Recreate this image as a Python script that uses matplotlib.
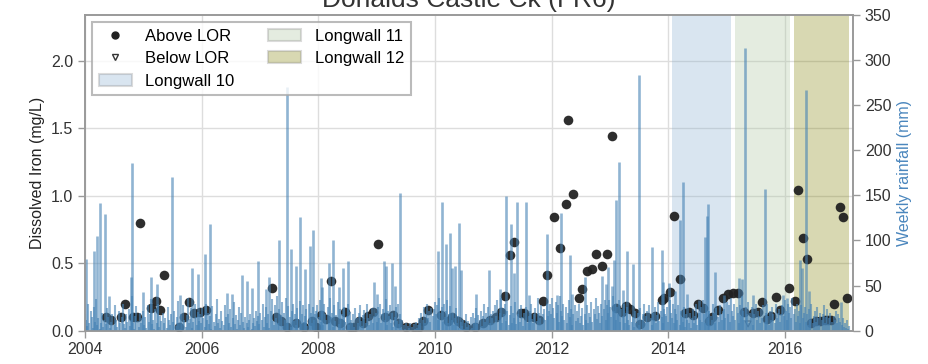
import numpy as np
import matplotlib
matplotlib.use('Agg')
from matplotlib import pyplot as plt
from matplotlib.lines import Line2D
from matplotlib.patches import Patch

plt.rcParams['font.family'] = ['Liberation Sans', 'DejaVu Sans']
plt.rcParams['font.size'] = 11.5

# dissolved iron samples (decimal year, mg/L)
above_dates = [2004.36, 2004.45, 2004.62, 2004.69, 2004.82, 2004.89, 2004.94, 2005.13, 2005.21, 2005.29,
               2005.36, 2005.62, 2005.70, 2005.79, 2005.87, 2005.97, 2006.07, 2007.20, 2007.28, 2007.36,
               2007.46, 2007.62, 2007.75, 2007.89, 2007.96, 2008.05, 2008.13, 2008.21, 2008.29, 2008.37,
               2008.46, 2008.54, 2008.62, 2008.70, 2008.76, 2008.86, 2008.94, 2009.03, 2009.15, 2009.29,
               2009.37, 2009.50, 2009.65, 2009.72, 2009.80, 2009.88, 2010.11, 2010.22, 2010.30, 2010.40,
               2010.46, 2010.54, 2010.69, 2010.82, 2010.94, 2011.05, 2011.14, 2011.21, 2011.29, 2011.36,
               2011.47, 2011.53, 2011.60, 2011.70, 2011.79, 2011.86, 2011.93, 2012.05, 2012.14, 2012.24,
               2012.29, 2012.37, 2012.47, 2012.52, 2012.61, 2012.69, 2012.77, 2012.87, 2012.95, 2013.04,
               2013.10, 2013.21, 2013.27, 2013.35, 2013.44, 2013.52, 2013.63, 2013.78, 2013.89, 2013.93,
               2014.03, 2014.10, 2014.21, 2014.29, 2014.36, 2014.43, 2014.52, 2014.60, 2014.70, 2014.75,
               2014.86, 2014.94, 2015.02, 2015.11, 2015.19, 2015.30, 2015.46, 2015.54, 2015.61, 2015.69,
               2015.77, 2015.85, 2015.92, 2016.08, 2016.18, 2016.23, 2016.31, 2016.38, 2016.45, 2016.54,
               2016.61, 2016.69, 2016.74, 2016.79, 2016.84, 2016.94, 2016.99, 2017.07]
above_fe = [0.10, 0.08, 0.10, 0.20, 0.10, 0.10, 0.80, 0.17, 0.22, 0.15,
            0.41, 0.03, 0.10, 0.21, 0.13, 0.14, 0.15, 0.32, 0.10, 0.07,
            0.03, 0.06, 0.03, 0.07, 0.03, 0.12, 0.09, 0.37, 0.07, 0.06,
            0.14, 0.03, 0.03, 0.07, 0.06, 0.11, 0.14, 0.64, 0.10, 0.12,
            0.06, 0.03, 0.03, 0.03, 0.07, 0.15, 0.12, 0.07, 0.10, 0.07,
            0.05, 0.03, 0.03, 0.06, 0.08, 0.10, 0.14, 0.26, 0.56, 0.66,
            0.13, 0.13, 0.10, 0.10, 0.08, 0.22, 0.41, 0.84, 0.61, 0.94,
            1.56, 1.01, 0.24, 0.31, 0.44, 0.46, 0.57, 0.48, 0.57, 1.44,
            0.17, 0.14, 0.18, 0.16, 0.13, 0.05, 0.10, 0.11, 0.23, 0.24,
            0.29, 0.85, 0.38, 0.13, 0.14, 0.12, 0.20, 0.17, 0.07, 0.10,
            0.15, 0.24, 0.27, 0.28, 0.28, 0.14, 0.13, 0.14, 0.21, 0.09,
            0.11, 0.25, 0.15, 0.32, 0.22, 1.04, 0.69, 0.53, 0.06, 0.07,
            0.07, 0.08, 0.08, 0.08, 0.20, 0.92, 0.84, 0.24]
below_dates = [2015.37]
below_fe = [0.05]

# weekly rainfall (mm), one row per year from first week of 2004
weekly_mm = [
    [18, 12, 5, 30, 8, 22, 15, 3, 26, 10, 35, 6, 14, 2, 9, 20, 4, 12, 0, 7, 25, 15, 3, 10, 18, 1, 6, 28, 12, 4, 22, 9, 0, 15, 30, 7, 3, 18, 10, 24, 5, 12, 38, 8, 2, 16, 27, 11, 4, 20, 9, 14],
    [22, 6, 15, 3, 28, 10, 18, 35, 7, 12, 2, 24, 9, 30, 4, 16, 11, 0, 20, 8, 14, 3, 26, 12, 6, 18, 1, 10, 22, 5, 15, 33, 9, 2, 19, 7, 28, 12, 4, 17, 36, 8, 13, 25, 3, 10, 30, 15, 6, 21, 11, 18],
    [9, 25, 14, 4, 30, 12, 20, 7, 16, 2, 27, 10, 5, 18, 35, 8, 13, 3, 22, 11, 6, 28, 15, 1, 19, 9, 24, 4, 14, 32, 7, 17, 2, 12, 26, 6, 20, 10, 3, 15, 0, 8, 4, 12, 18, 2, 9, 14, 5, 22, 11, 16],
    [7, 20, 12, 30, 4, 15, 26, 9, 18, 3, 22, 35, 11, 6, 28, 14, 38, 8, 24, 17, 32, 5, 20, 12, 36, 9, 27, 15, 4, 22, 30, 11, 18, 6, 25, 13, 33, 7, 19, 28, 10, 16, 24, 5, 30, 14, 20, 9, 26, 12, 18, 22],
    [28, 15, 34, 10, 22, 6, 30, 18, 12, 26, 8, 36, 15, 20, 4, 28, 11, 17, 32, 7, 24, 13, 19, 3, 26, 10, 16, 30, 6, 21, 12, 9, 18, 4, 25, 14, 8, 20, 28, 11, 5, 17, 23, 9, 30, 14, 6, 19, 12, 25, 8, 16],
    [20, 10, 26, 14, 30, 8, 18, 24, 12, 35, 6, 22, 16, 28, 9, 20, 4, 15, 26, 11, 30, 7, 18, 3, 12, 6, 2, 8, 0, 5, 3, 9, 1, 4, 7, 2, 10, 3, 6, 14, 8, 20, 12, 26, 9, 18, 30, 14, 22, 10, 25, 16],
    [24, 32, 18, 28, 12, 36, 20, 26, 10, 30, 15, 22, 34, 8, 18, 27, 12, 20, 6, 14, 25, 9, 16, 3, 10, 5, 12, 2, 8, 18, 4, 11, 6, 15, 3, 20, 9, 14, 25, 7, 17, 12, 22, 5, 16, 30, 10, 20, 14, 26, 8, 18],
    [14, 22, 9, 28, 16, 34, 12, 20, 36, 8, 25, 18, 30, 11, 22, 6, 17, 27, 9, 20, 14, 32, 7, 18, 24, 10, 28, 15, 5, 20, 12, 26, 8, 16, 22, 30, 13, 9, 18, 25, 11, 36, 20, 14, 28, 7, 19, 24, 12, 30, 16, 22],
    [30, 18, 36, 25, 14, 32, 20, 28, 10, 38, 22, 16, 30, 12, 26, 8, 20, 34, 15, 24, 6, 18, 28, 11, 22, 14, 30, 9, 16, 25, 6, 19, 12, 28, 8, 20, 15, 32, 10, 24, 18, 36, 13, 27, 20, 9, 30, 16, 24, 34, 12, 28],
    [20, 34, 26, 15, 38, 22, 30, 12, 26, 18, 34, 10, 24, 16, 30, 8, 20, 26, 12, 6, 18, 10, 15, 4, 22, 9, 14, 20, 6, 25, 12, 18, 30, 8, 16, 22, 10, 28, 14, 6, 20, 12, 26, 9, 17, 32, 11, 22, 15, 8, 24, 18],
    [16, 26, 10, 34, 20, 14, 30, 8, 24, 18, 12, 28, 6, 22, 15, 10, 26, 4, 18, 12, 8, 20, 3, 14, 24, 9, 16, 30, 6, 20, 12, 26, 10, 34, 18, 8, 28, 14, 22, 6, 16, 12, 30, 20, 9, 25, 15, 10, 28, 18, 12, 22],
    [24, 14, 32, 18, 28, 10, 36, 22, 16, 30, 12, 26, 20, 8, 28, 16, 38, 22, 12, 26, 18, 32, 9, 20, 14, 26, 6, 18, 30, 12, 22, 16, 8, 24, 14, 28, 10, 20, 30, 16, 6, 22, 12, 26, 18, 8, 30, 14, 20, 24, 10, 18],
    [28, 16, 34, 22, 12, 30, 20, 26, 14, 36, 18, 24, 10, 30, 16, 22, 8, 28, 14, 20, 26, 10, 18, 6, 24, 12, 30, 8, 16, 22, 10, 26, 14, 6, 20, 12, 18, 28, 9, 15, 24, 7, 14, 20, 10, 6, 16, 12, 22, 8, 18, 14],
    [10, 6, 14, 4, 8, 3, 12, 2, 5],
]

# storm weeks (decimal year, mm)
storm_dates = [2004.02, 2004.15, 2004.20, 2004.26, 2004.35, 2004.42, 2004.79, 2004.81, 2004.99, 2005.14,
               2005.23, 2005.50, 2005.63, 2005.84, 2005.93, 2006.06, 2006.15, 2006.43, 2006.52, 2006.70,
               2006.78, 2006.86, 2006.97, 2007.10, 2007.15, 2007.33, 2007.46, 2007.53, 2007.61, 2007.69,
               2007.78, 2007.85, 2007.91, 2008.04, 2008.07, 2008.19, 2008.26, 2008.35, 2008.43, 2008.51,
               2008.95, 2009.00, 2009.13, 2009.16, 2009.26, 2009.32, 2009.40, 2010.05, 2010.13, 2010.19,
               2010.26, 2010.30, 2010.35, 2010.42, 2010.44, 2010.71, 2010.93, 2011.11, 2011.22, 2011.31,
               2011.35, 2011.41, 2011.57, 2011.62, 2011.92, 2012.09, 2012.16, 2012.31, 2012.35, 2012.57,
               2012.87, 2012.93, 2012.97, 2013.03, 2013.07, 2013.10, 2013.16, 2013.23, 2013.30, 2013.40,
               2013.50, 2013.73, 2013.89, 2013.91, 2014.02, 2014.12, 2014.21, 2014.25, 2014.32, 2014.53,
               2014.63, 2014.66, 2014.68, 2014.80, 2014.95, 2015.22, 2015.27, 2015.31, 2015.45, 2015.66,
               2015.97, 2016.04, 2016.26, 2016.29, 2016.36, 2016.42, 2016.97]
storm_mm = [79, 88, 105, 142, 129, 38, 60, 186, 43, 60,
            52, 170, 40, 69, 63, 85, 118, 42, 41, 62,
            55, 47, 77, 46, 60, 100, 270, 91, 72, 126,
            68, 94, 112, 58, 48, 75, 100, 48, 70, 77,
            54, 41, 77, 72, 75, 50, 153, 88, 143, 96,
            108, 70, 72, 119, 67, 41, 67, 46, 149, 118,
            64, 143, 143, 40, 107, 40, 131, 84, 41, 59,
            61, 52, 71, 49, 78, 145, 187, 45, 88, 74,
            283, 93, 90, 54, 53, 44, 123, 165, 41, 34,
            104, 127, 140, 65, 40, 58, 57, 313, 40, 157,
            40, 36, 78, 70, 267, 44, 32]

longwalls = ['Longwall 10', 'Longwall 11', 'Longwall 12']
lw_start = [2014.06, 2015.14, 2016.155]
lw_end = [2015.07, 2016.09, 2017.10]
lw_colors = ['#84acce', '#a8c39b', '#808000']

rain = np.concatenate([np.array(r, dtype=float) for r in weekly_mm])
rain_dates = 2004 + np.arange(len(rain)) * 7 / 365.25

fig = plt.figure(figsize=(9.29, 3.64), dpi=100)
ax = fig.add_axes([0.0915, 0.0915, 0.8267, 0.8673])
ax2 = ax.twinx()

grey = '#9a9a9a'
for a in (ax, ax2):
    for s in a.spines.values():
        s.set_color(grey)
        s.set_linewidth(1.2)
    a.tick_params(direction='out', length=5, width=1, color=grey, labelcolor='#333333', labelsize=11.5)

ax.set_axisbelow(True)
ax.grid(True, color='#dddddd', linewidth=1)

for name, x0, x1, c in zip(longwalls, lw_start, lw_end, lw_colors):
    ax.axvspan(x0, x1, color=c, alpha=0.3, lw=0, zorder=1)

ax.scatter(above_dates, above_fe, s=48, color='#222222', alpha=0.95, lw=0, zorder=3)
ax.scatter(below_dates, below_fe, s=18, marker='v', facecolor='none', edgecolor='#555555', lw=0.8, zorder=3)

ax2.vlines(rain_dates, 0, rain, color='steelblue', alpha=0.6, lw=1.5)
ax2.vlines(storm_dates, 0, storm_mm, color='steelblue', alpha=0.6, lw=1.9)

ax.set_xlim(2004.0, 2017.17)
ax.set_ylim(0, 2.34)
ax2.set_ylim(0, 350)
ax.set_xticks([2004, 2006, 2008, 2010, 2012, 2014, 2016])
ax.set_xticklabels(['2004', '2006', '2008', '2010', '2012', '2014', '2016'])
ax.set_yticks([0.0, 0.5, 1.0, 1.5, 2.0])
ax.set_yticklabels(['0.0', '0.5', '1.0', '1.5', '2.0'])
ax2.set_yticks([0, 50, 100, 150, 200, 250, 300, 350])
ax2.grid(False)

ax.set_ylabel('Dissolved Iron (mg/L)', fontsize=11.5, color='#222222')
ax2.set_ylabel('Weekly rainfall (mm)', fontsize=11.5, color='#4a86bd')
ax.set_title('Donalds Castle Ck (FR6)', fontsize=19, color='#333333')

handles = [Line2D([], [], ls='', marker='o', color='#222222', markersize=5),
           Line2D([], [], ls='', marker='v', markerfacecolor='none', markeredgecolor='#333333', markersize=5)]
handles += [Patch(facecolor=c, alpha=0.3, edgecolor='#888888', lw=1.5) for c in lw_colors]
labels = ['Above LOR', 'Below LOR'] + longwalls
leg = ax2.legend(handles, labels, loc='upper left', ncol=2, fontsize=12, frameon=True,
                 fancybox=False, borderaxespad=0.42, columnspacing=2.0, labelspacing=0.45)
leg.get_frame().set_edgecolor('#aaaaaa')
leg.get_frame().set_linewidth(1.5)

fig.savefig('out.png', dpi=100)
